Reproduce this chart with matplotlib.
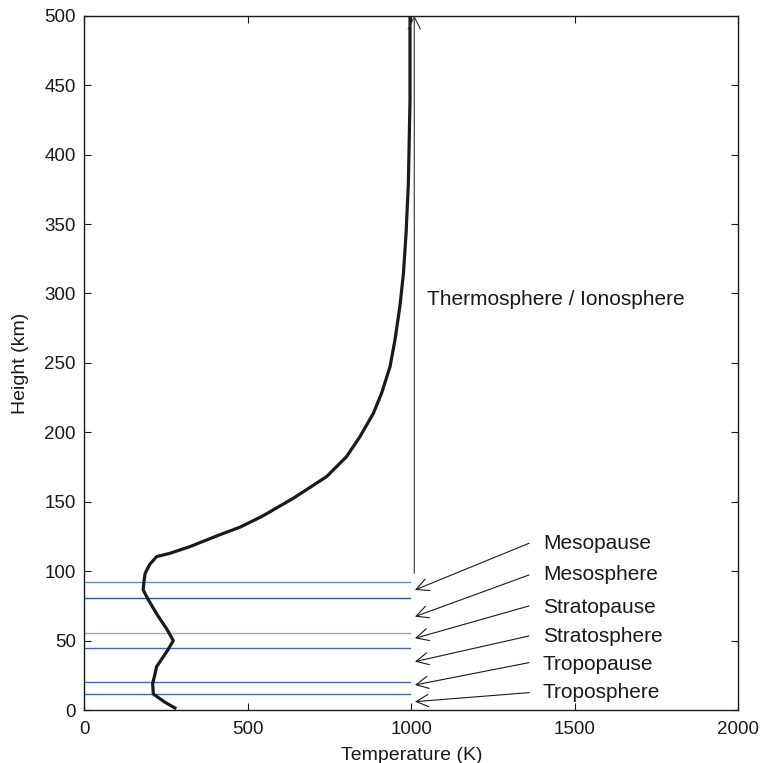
import numpy as np
import matplotlib
matplotlib.use("Agg")
import matplotlib.pyplot as plt

plt.rcParams['font.family'] = ['Liberation Sans', 'DejaVu Sans']

# temperature profile
temp_k = [277, 245, 211, 209, 215, 221, 240, 254, 272, 263, 254, 225, 196, 180,
          182, 186, 200, 221, 262, 323, 405, 476, 542, 639, 741, 802, 843,
          884, 909, 935, 950, 965, 976, 984, 991, 996, 996]
height_km = [1.7, 6, 11.7, 19.4, 25, 31.4, 38, 42.9, 50.1, 54, 57.8, 68, 79.4, 86.6,
             92, 98.6, 105, 110.6, 113, 117.8, 125.5, 131.8, 139.4, 152.6, 168.2,
             182.6, 197, 213.8, 228.2, 247.4, 266.6, 290.6, 314.6, 343.4, 379.4,
             439.4, 500]

# layer boundary lines
boundary_h = [92, 80.5, 55.4, 45, 20.2, 11.7]
boundary_col = ['#6f88c4', '#3050a0', '#9aa6c4', '#4a66b0', '#4a66b0', '#4a66b0']

# layer labels
layer_names = ['Mesopause', 'Mesosphere', 'Stratopause', 'Stratosphere',
               'Tropopause', 'Troposphere']
label_h = [119.7, 97.4, 74.2, 53, 33.3, 12.7]
tail_h = [120.2, 97.4, 75.1, 53.5, 34.3, 12.7]
head_h = [86.6, 67.4, 51.8, 35, 18.2, 6.2]

fig = plt.figure(figsize=(7.61, 7.63), dpi=100)
ax = fig.add_axes([0.1108, 0.0691, 0.8594, 0.9104])

for h, c in zip(boundary_h, boundary_col):
    ax.plot([0, 995], [h, h], color=c, lw=1.0)

ax.plot(temp_k, height_km, color='#1a1a1a', lw=2.3, solid_joinstyle='round')

# thermosphere arrow
ax.annotate('', xy=(1009, 500), xytext=(1009, 98.6),
            arrowprops=dict(arrowstyle='->', lw=0.8, color='#333333',
                            mutation_scale=22, shrinkA=0, shrinkB=0))
ax.text(1047, 295.4, 'Thermosphere / Ionosphere', fontsize=15,
        va='center', ha='left', color='#1a1a1a')

for name, ty, t0, t1 in zip(layer_names, label_h, tail_h, head_h):
    ax.annotate('', xy=(1011, t1), xytext=(1360, t0),
                arrowprops=dict(arrowstyle='->', lw=0.8, color='#1a1a1a',
                                mutation_scale=22, shrinkA=0, shrinkB=0))
    ax.text(1402, ty, name, fontsize=15, va='center', ha='left', color='#1a1a1a')

ax.set_xlim(0, 2000)
ax.set_ylim(0, 500)
ax.set_xticks([0, 500, 1000, 1500, 2000])
ax.set_yticks(np.arange(0, 501, 50))
ax.tick_params(direction='in', length=5, width=0.8, labelsize=13.5,
               top=True, right=True, colors='#1a1a1a', pad=6)
ax.tick_params(axis='x', pad=8)
for s in ax.spines.values():
    s.set_color('#1a1a1a')
    s.set_linewidth(1.0)
ax.set_xlabel('Temperature (K)', fontsize=14, color='#1a1a1a', labelpad=6)
ax.set_ylabel('Height (km)', fontsize=14, color='#1a1a1a', labelpad=11)

fig.savefig('out.png', dpi=100)
